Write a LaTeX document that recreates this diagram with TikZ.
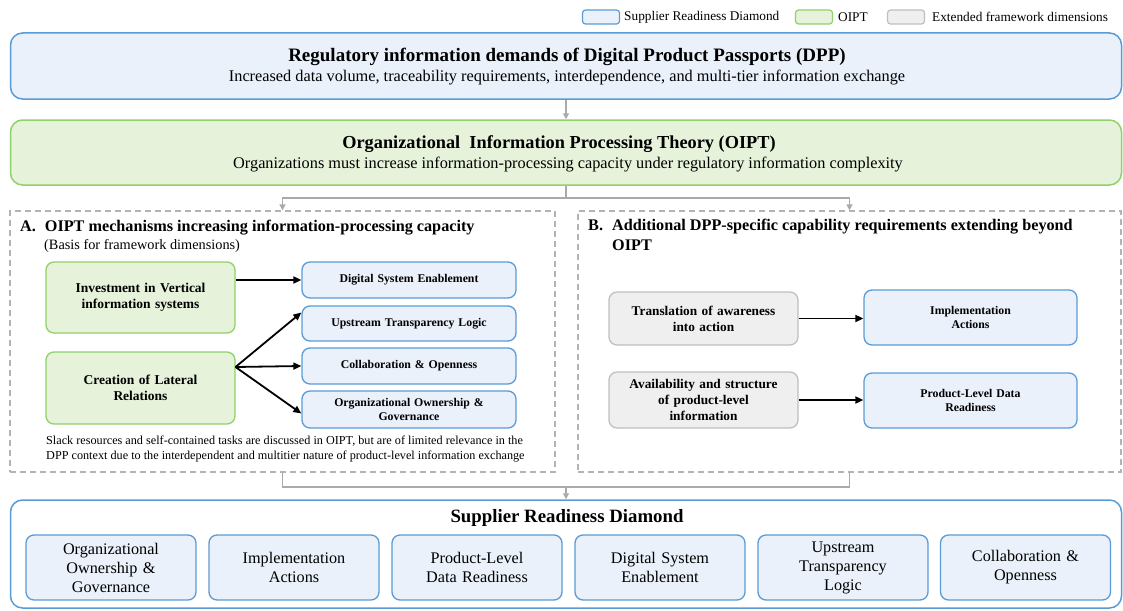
\documentclass[tikz,border=0pt]{standalone}
\usepackage{fontspec}
\setmainfont{Liberation Serif}
\usetikzlibrary{arrows.meta}
\definecolor{bbord}{HTML}{5B9BD5}
\definecolor{bfill}{HTML}{EAF1FA}
\definecolor{gbord}{HTML}{8FD16A}
\definecolor{gfill}{HTML}{E6F2DA}
\definecolor{xbord}{HTML}{BFBFBF}
\definecolor{xfill}{HTML}{EFEFEF}
\definecolor{dashc}{HTML}{B3B3B3}
\definecolor{connc}{HTML}{AAAAAA}
\newcommand{\fs}[2]{\fontsize{#1}{#2}\selectfont}
\tikzset{
  base/.style={rounded corners=8pt, line width=1.3pt, inner sep=2pt, align=center},
  bluebox/.style={base, draw=bbord, fill=bfill},
  greenbox/.style={base, draw=gbord, fill=gfill},
  greybox/.style={base, draw=xbord, fill=xfill},
  bigbox/.style={rounded corners=12pt, line width=1.5pt},
  dashbox/.style={draw=dashc, dashed, dash pattern=on 6pt off 4pt, line width=1.2pt},
  legbox/.style={rounded corners=3pt, line width=1.2pt, minimum width=37, minimum height=14, inner sep=0pt},
  txt/.style={inner sep=0pt, align=center},
  blk/.style={-{Triangle[length=8pt,width=7pt]}, line width=1.8pt, black},
  gry/.style={-{Triangle[length=6pt,width=6pt]}, line width=1.3pt, connc},
  gryl/.style={line width=1.3pt, connc},
  smallb/.style={font=\fs{11.8}{14}\bfseries, minimum width=214, text width=205},
  lowb/.style={bluebox, font=\fs{16.2}{19}, minimum width=170, minimum height=65, text width=160},
}
\begin{document}
\begin{tikzpicture}[x=1pt,y=-1pt]
\useasboundingbox (0,0) rectangle (1123,610);

% legend
\node[legbox, draw=bbord, fill=bfill] (l1) at (601,17) {};
\node[txt, anchor=west, font=\fs{13.3}{15}] (l1t) at (624,17) {Supplier Readiness Diamond};
\node[legbox, draw=gbord, fill=gfill] (l2) at (814,17) {};
\node[txt, anchor=west, font=\fs{13.3}{15}] (l2t) at (838,17) {OIPT};
\node[legbox, draw=xbord, fill=xfill] (l3) at (906,17) {};
\node[txt, anchor=west, font=\fs{13.3}{15}] (l3t) at (932,17) {Extended framework dimensions};

% DPP box
\node[bigbox, draw=bbord, fill=bfill, minimum width=1111, minimum height=66] (dpp) at (566,66) {};
\node[txt, font=\fs{19}{22}\bfseries] (dppT) at (567,57) {Regulatory information demands of Digital Product Passports (DPP)};
\node[txt, font=\fs{16.3}{19}] (dppS) at (567,78) {Increased data volume, traceability requirements, interdependence, and multi-tier information exchange};

% OIPT box
\node[bigbox, draw=gbord, fill=gfill, minimum width=1111, minimum height=65] (oipt) at (566,152.5) {};
\node[txt, font=\fs{18.3}{22}\bfseries] (oiptT) at (559,144) {Organizational\ \ Information Processing Theory (OIPT)};
\node[txt, font=\fs{16.3}{19}] (oiptS) at (568,165) {Organizations must increase information-processing capacity under regulatory information complexity};

\draw[gry] (dpp.south) -- (oipt.north);

% dashed boxes
\node[dashbox, minimum width=545, minimum height=261, inner sep=0pt] (boxA) at (282.5,341.5) {};
\node[dashbox, minimum width=543, minimum height=261, inner sep=0pt] (boxB) at (849.5,341.5) {};

\coordinate (split) at (566,198);
\draw[gryl] (oipt.south) -- (split);
\draw[gry] (split) -| (boxA.north);
\draw[gry] (split) -| (boxB.north);

% A heading
\node[txt, anchor=west, font=\fs{16.2}{19}\bfseries] (hA) at (20,228) {A.\hspace{9pt}OIPT mechanisms increasing information-processing capacity};
\node[txt, anchor=west, font=\fs{14.3}{17}] (hA2) at (44,246) {(Basis for framework dimensions)};

% A nodes
\node[greenbox, minimum width=189, minimum height=71, text width=170, font=\fs{13.5}{16}\bfseries] (inv) at (140.5,297.5) {Investment in Vertical\\information systems};
\node[greenbox, minimum width=189, minimum height=72, text width=170, font=\fs{13.5}{16}\bfseries] (lat) at (140.5,388) {Creation of Lateral\\Relations};
\node[bluebox, smallb, minimum height=36] (dse) at (409,280) {Digital System Enablement};
\node[bluebox, smallb, minimum height=35] (utl) at (409,323.5) {Upstream Transparency Logic};
\node[bluebox, smallb, minimum height=36] (col) at (409,366) {Collaboration \& Openness};
\node[bluebox, smallb, minimum height=37] (oog) at (409,409.5) {Organizational Ownership \&\\Governance};

\draw[blk] (inv.east |- dse) -- (dse.west);
\coordinate (latout) at (235.5,367);
\draw[blk] (latout) -- ([yshift=11pt]utl.west);
\draw[blk] (latout) -- (col.west);
\draw[blk] (latout) -- ([yshift=-4pt]oog.west);

\node[txt, anchor=north west, align=left, font=\fs{12.2}{15}] (note) at (46,436) {Slack resources and self-contained tasks are discussed in OIPT, but are of limited relevance in the\\DPP context due to the interdependent and multitier nature of product-level information exchange};

% B heading
\node[txt, anchor=north west, align=left, font=\fs{16.2}{20}\bfseries] (hB) at (588,219) {B.\hspace{9pt}Additional DPP-specific capability requirements extending beyond\\\hspace{24pt}OIPT};

% B nodes
\node[greybox, minimum width=189, minimum height=53, text width=175, font=\fs{13.3}{16}\bfseries] (tra) at (703.5,318.5) {Translation of awareness\\into action};
\node[greybox, minimum width=189, minimum height=56, text width=175, font=\fs{13.3}{16}\bfseries] (ava) at (703.5,400) {Availability and structure\\of product-level\\information};
\node[bluebox, minimum width=213, minimum height=55, text width=180, font=\fs{11.8}{14}\bfseries] (imp) at (970.5,317.5) {Implementation\\Actions};
\node[bluebox, minimum width=213, minimum height=55, text width=180, font=\fs{11.8}{14}\bfseries] (pld) at (970.5,400.5) {Product-Level Data\\Readiness};
\draw[blk] (tra.east) -- (imp.west |- tra.east);
\draw[blk] (ava.east) -- (pld.west |- ava.east);

% bottom
\node[bigbox, draw=bbord, fill=white, minimum width=1111, minimum height=108] (srd) at (566,554) {};
\coordinate (merge) at (566,487);
\draw[gryl] (boxA.south) |- (merge);
\draw[gryl] (boxB.south) |- (merge);
\draw[gry] (merge) -- (srd.north);
\node[txt, font=\fs{18.8}{22}\bfseries] (srdT) at (567,518) {Supplier Readiness Diamond};

\node[lowb] (d1) at (111,567.5) {Organizational\\Ownership \&\\Governance};
\node[lowb] (d2) at (294,567.5) {Implementation\\Actions};
\node[lowb] (d3) at (477,567.5) {Product-Level\\Data Readiness};
\node[lowb] (d4) at (660,567.5) {Digital System\\Enablement};
\node[lowb] (d5) at (843,567.5) {Upstream\\Transparency\\Logic};
\node[lowb] (d6) at (1025.5,567.5) {Collaboration \&\\Openness};
\end{tikzpicture}
\end{document}
